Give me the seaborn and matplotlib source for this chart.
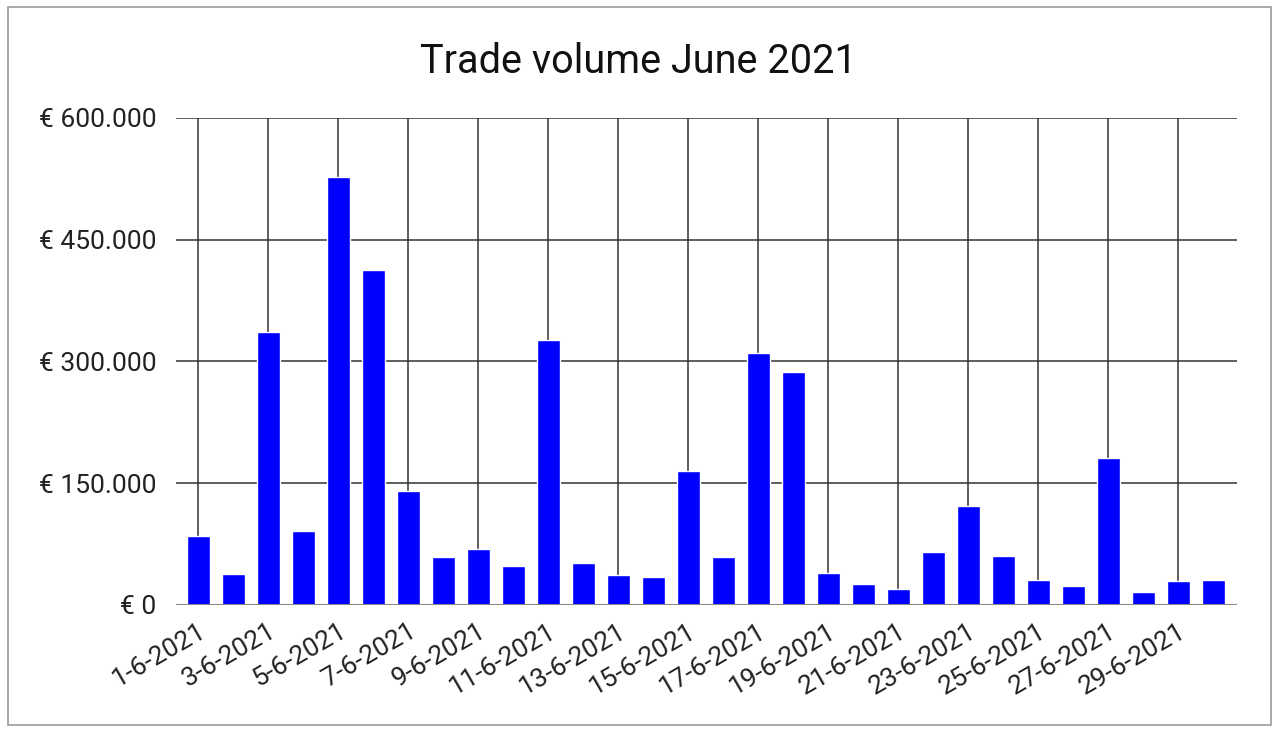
import numpy as np
import pandas as pd
import matplotlib
matplotlib.use('Agg')
import matplotlib.pyplot as plt
import seaborn as sns

# Data
dagen = [f'{d}-6-2021' for d in range(1, 31)]
volume = [85000, 38000, 336000, 91000, 527000, 413000, 140000, 59000, 69000, 48000,
          326000, 52000, 37000, 34000, 165000, 59000, 310000, 287000, 39000, 26000,
          20000, 65000, 122000, 60000, 31000, 23000, 181000, 16000, 30000, 31000]
y_ticks = [0, 150000, 300000, 450000, 600000]
y_labels = ['€ 0', '€ 150.000', '€ 300.000', '€ 450.000', '€ 600.000']

data = pd.DataFrame({'Datum': dagen, 'Volume': volume})

sns.set_style('white')
plt.rcParams['font.family'] = ['Roboto', 'DejaVu Sans']

fig = plt.figure(figsize=(12.76, 7.31), dpi=100)
ax = fig.add_axes([0.138, 0.1724, 0.8314, 0.6662])

# Vertical gridlines on every other day, horizontal on y ticks
for i in range(0, len(dagen), 2):
    ax.axvline(i, color='#333333', linewidth=1.1, zorder=0)
for t in y_ticks[1:]:
    ax.axhline(t, color='#333333', linewidth=1.1, zorder=0)

sns.barplot(x='Datum', y='Volume', data=data, color='#0000ff', saturation=1,
            width=0.66, ax=ax, zorder=2)

ax.axhline(0, color='#888888', linewidth=1.5, zorder=3)

ax.set_xlim(-0.63, 29.68)
ax.set_ylim(0, 600000)
ax.set_yticks(y_ticks)
ax.set_yticklabels(y_labels, fontsize=19, color='#222222')
ax.set_xticks(range(0, len(dagen), 2))
ax.set_xticklabels(dagen[::2], rotation=30, ha='right', rotation_mode='anchor',
                   fontsize=19, color='#222222')
ax.tick_params(axis='y', length=0, pad=14)
ax.tick_params(axis='x', length=0, pad=10)
ax.set_xlabel('')
ax.set_ylabel('')
for s in ax.spines.values():
    s.set_visible(False)

fig.text(0.5, 0.916, 'Trade volume June 2021', ha='center', va='center',
         fontsize=28.5, color='#111111')

# Grey frame around the chart
frame = plt.Rectangle((0.006, 0.008), 0.99, 0.983, transform=fig.transFigure,
                      fill=False, edgecolor='#9a9a9a', linewidth=1.2)
fig.patches.append(frame)

fig.savefig('out.png', dpi=100)
